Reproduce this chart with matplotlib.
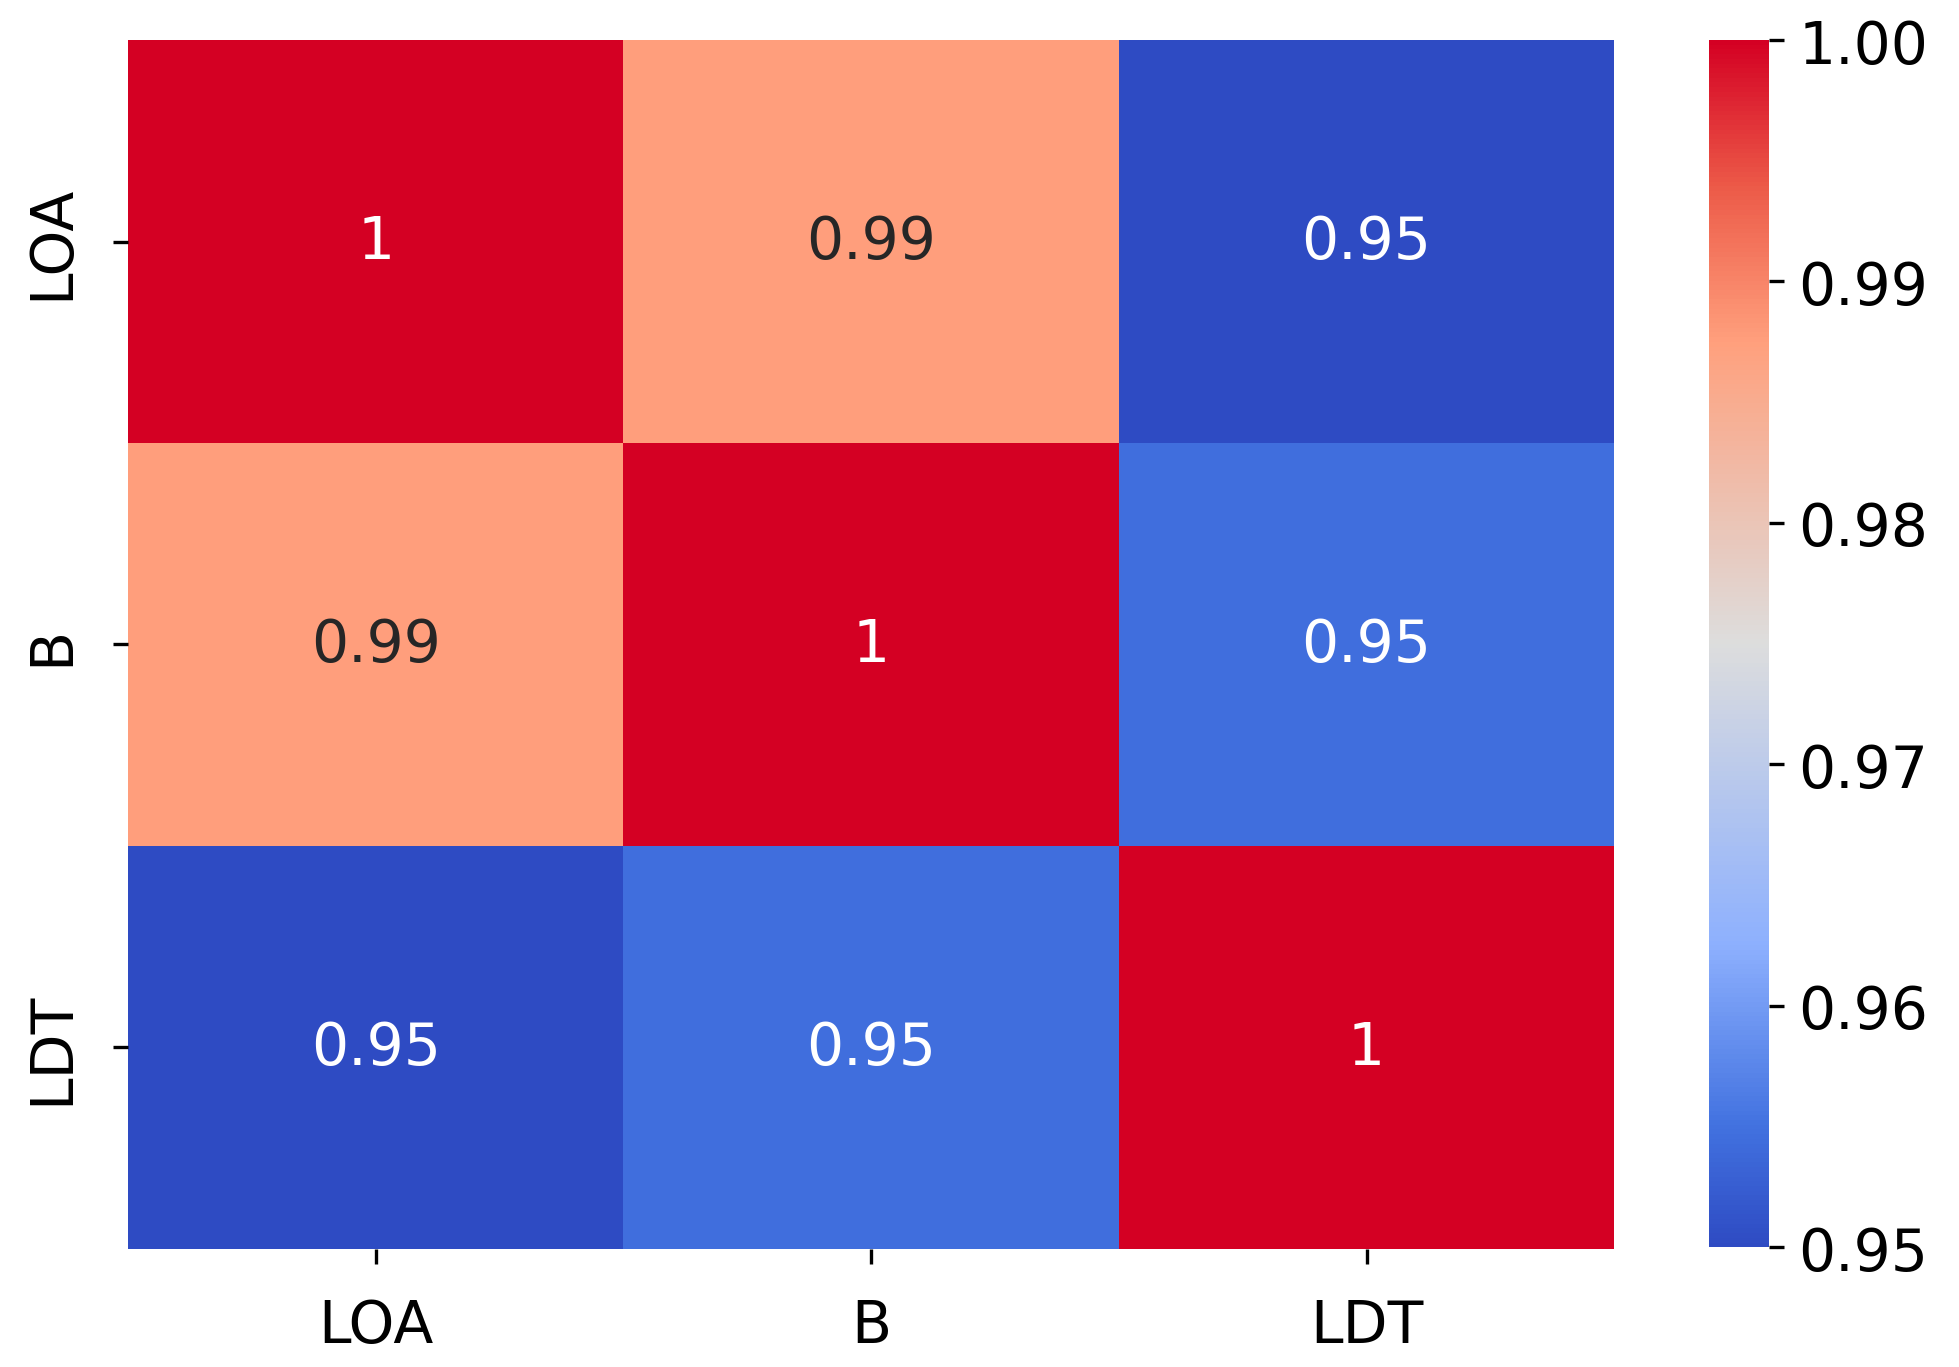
import numpy as np
import matplotlib
matplotlib.use("Agg")
import matplotlib.pyplot as plt
from matplotlib.colors import LinearSegmentedColormap

# correlation matrix
labels = ["LOA", "B", "LDT"]
row_loa = [1.0, 0.9875, 0.9500]
row_b = [0.9875, 1.0, 0.9545]
row_ldt = [0.9500, 0.9545, 1.0]
corr = np.array([row_loa, row_b, row_ldt])

# coolwarm-like map, a bit brighter at both ends as in the reference
cmap = LinearSegmentedColormap.from_list("cw", [
    (0.00, "#2E4BC3"),
    (0.10, "#4272E0"),
    (0.25, "#8DB0FE"),
    (0.50, "#DDDDDD"),
    (0.75, "#FFA07D"),
    (0.88, "#EC5A48"),
    (1.00, "#D40023"),
])


def rel_lum(rgb):
    # sRGB relative luminance, same rule seaborn uses for annotation colour
    c = np.array(rgb[:3])
    c = np.where(c <= 0.03928, c / 12.92, ((c + 0.055) / 1.055) ** 2.4)
    return 0.2126 * c[0] + 0.7152 * c[1] + 0.0722 * c[2]


plt.rcParams["font.family"] = "DejaVu Sans"
plt.rcParams["font.size"] = 14

fig = plt.figure(figsize=(6.53, 4.56), dpi=300)
ax = fig.add_axes([0.0653, 0.0863, 0.7587, 0.8837])
cax = fig.add_axes([0.8725, 0.0875, 0.0305, 0.8825])

vmin, vmax = corr.min(), corr.max()
mesh = ax.pcolormesh(corr, cmap=cmap, vmin=vmin, vmax=vmax)
ax.set_xlim(0, len(labels))
ax.set_ylim(len(labels), 0)

for i in range(corr.shape[0]):
    for j in range(corr.shape[1]):
        v = corr[i, j]
        color = "#262626" if rel_lum(cmap((v - vmin) / (vmax - vmin))) > 0.408 else "white"
        ax.text(j + 0.5, i + 0.5, format(v, ".2g"), ha="center", va="center",
                color=color, fontsize=14)

ax.set_xticks(np.arange(len(labels)) + 0.5)
ax.set_yticks(np.arange(len(labels)) + 0.5)
ax.set_xticklabels(labels)
ax.set_yticklabels(labels, rotation=90, va="center")
ax.tick_params(axis="both", pad=8)
for s in ax.spines.values():
    s.set_visible(False)

cb = fig.colorbar(mesh, cax=cax)
cb.set_ticks([0.95, 0.96, 0.97, 0.98, 0.99, 1.00])
cb.ax.set_yticklabels(["0.95", "0.96", "0.97", "0.98", "0.99", "1.00"])
cb.outline.set_visible(False)

fig.savefig("out.png", dpi=300)
